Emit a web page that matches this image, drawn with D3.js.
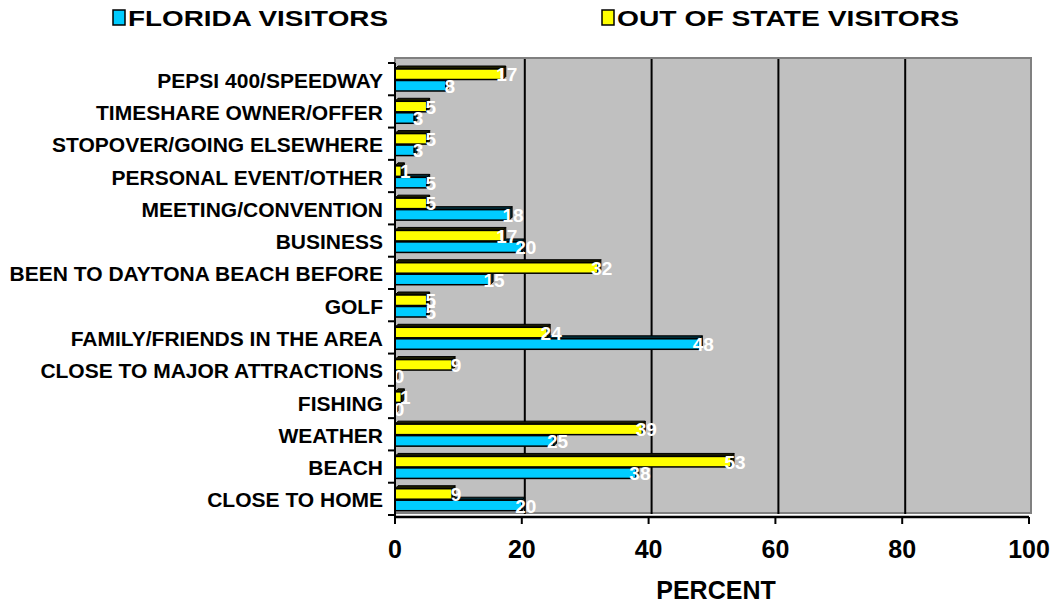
<!DOCTYPE html>
<html><head><meta charset="utf-8">
<script src="https://cdn.jsdelivr.net/npm/d3@7"></script>
<style>body{margin:0;background:#fff}svg{display:block;font-family:"Liberation Sans",Arial,sans-serif;font-weight:bold}</style>
</head><body>
<script>
const categories = ["PEPSI 400/SPEEDWAY","TIMESHARE OWNER/OFFER","STOPOVER/GOING ELSEWHERE","PERSONAL EVENT/OTHER","MEETING/CONVENTION","BUSINESS","BEEN TO DAYTONA BEACH BEFORE","GOLF","FAMILY/FRIENDS IN THE AREA","CLOSE TO MAJOR ATTRACTIONS","FISHING","WEATHER","BEACH","CLOSE TO HOME"];
const floridaValues = [8,3,3,5,18,20,15,5,48,0,0,25,38,20];
const outOfStateValues = [17,5,5,1,5,17,32,5,24,9,1,39,53,9];
const seriesNames = ["FLORIDA VISITORS","OUT OF STATE VISITORS"];
const xTicks = [0,20,40,60,80,100];
const axisTitle = "PERCENT";

const W=1057,H=603;
const svg=d3.select("body").append("svg").attr("width",W).attr("height",H);
const x=d3.scaleLinear().domain([0,100]).range([395,1029]);
const y=d3.scaleBand().domain(categories).range([63,515]);
const dx=3, dy=3;

// back wall
svg.append("rect").attr("x",x(0)+dx-3).attr("y",58).attr("width",x(100)-x(0)+2).attr("height",515-58-2)
  .attr("fill","#c0c0c0").attr("stroke","#808080").attr("stroke-width",2);
// gridlines
svg.selectAll("line.grid").data(xTicks.filter(t=>t>0&&t<100)).join("line")
  .attr("x1",d=>x(d)+dx).attr("x2",d=>x(d)+dx).attr("y1",59).attr("y2",514)
  .attr("stroke","#000").attr("stroke-width",2);

function bar3d(g,v,top,h,fill,topFill){
  const x0=x(0),x1=x(v);
  g.append("path").attr("d",`M${x0},${top}L${x0+dx},${top-dy}L${x1+dx},${top-dy}L${x1},${top}Z`)
    .attr("fill",topFill).attr("stroke","#000").attr("stroke-width",1);
  g.append("path").attr("d",`M${x1},${top}L${x1+dx},${top-dy}L${x1+dx},${top+h-dy}L${x1},${top+h}Z`)
    .attr("fill",topFill).attr("stroke","#000").attr("stroke-width",1);
  g.append("rect").attr("x",x0).attr("y",top).attr("width",Math.max(0,x1-x0)).attr("height",h)
    .attr("fill",fill).attr("stroke","#000").attr("stroke-width",1.5);
}
const bars=svg.append("g");
categories.forEach((c,i)=>{
  const b=y(c);
  bar3d(bars,floridaValues[i],b+17.5,10.5,"#00ccff","#002a35");
  bar3d(bars,outOfStateValues[i],b+6,10.5,"#ffff00","#1c1c00");
});
// labels
const lab=svg.append("g").attr("fill","#fff").attr("font-size",19).attr("text-anchor","middle");
categories.forEach((c,i)=>{
  const b=y(c);
  lab.append("text").attr("x",x(outOfStateValues[i])+4).attr("y",b+11.5).attr("dy","0.36em").text(outOfStateValues[i]);
  lab.append("text").attr("x",x(floridaValues[i])+4).attr("y",b+23).attr("dy","0.36em").text(floridaValues[i]);
});

// y axis
const ya=svg.append("g");
ya.append("line").attr("x1",x(0)).attr("x2",x(0)).attr("y1",63).attr("y2",517).attr("stroke","#000").attr("stroke-width",2);
const sep=categories.map(c=>y(c)).concat([y.range()[1]]);
ya.selectAll("line.t").data(sep).join("line").attr("x1",x(0)-7).attr("x2",x(0)).attr("y1",d=>d).attr("y2",d=>d).attr("stroke","#000").attr("stroke-width",2);
ya.selectAll("text").data(categories).join("text").attr("x",383).attr("y",d=>y(d)+y.bandwidth()/2+1).attr("dy","0.36em")
  .attr("text-anchor","end").attr("font-size",21).text(d=>d);

// x axis
const xa=svg.append("g");
xa.append("line").attr("x1",x(0)).attr("x2",x(100)).attr("y1",517).attr("y2",517).attr("stroke","#000").attr("stroke-width",2.5);
xa.selectAll("line.t").data(xTicks).join("line").attr("x1",d=>x(d)).attr("x2",d=>x(d)).attr("y1",517).attr("y2",524).attr("stroke","#000").attr("stroke-width",2);
xa.selectAll("text").data(xTicks).join("text").attr("x",d=>x(d)).attr("y",558).attr("text-anchor","middle").attr("font-size",25).text(d=>d);
svg.append("text").attr("x",716).attr("y",599).attr("text-anchor","middle").attr("font-size",25).text(axisTitle);

// legend
const leg=[{n:seriesNames[0],c:"#00ccff",x:113,w:260},{n:seriesNames[1],c:"#ffff00",x:602,w:342}];
leg.forEach(l=>{
  svg.append("rect").attr("x",l.x).attr("y",10).attr("width",12).attr("height",15).attr("fill",l.c).attr("stroke","#000").attr("stroke-width",1.5);
  svg.append("text").attr("x",l.x+15).attr("y",26).attr("font-size",22).attr("textLength",l.w).attr("lengthAdjust","spacingAndGlyphs").text(l.n);
});
</script>
</body></html>
